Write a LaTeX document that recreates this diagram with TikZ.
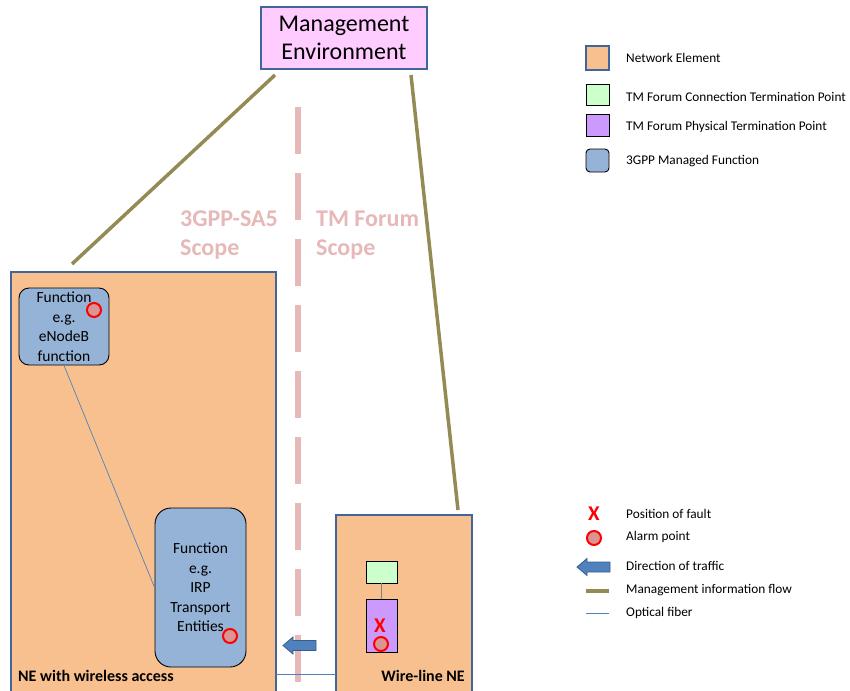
\documentclass[tikz,border=0pt]{standalone}
\usepackage{fontspec}
\setmainfont{Carlito}
\definecolor{neorange}{HTML}{F9C08F}
\definecolor{neborder}{HTML}{41679A}
\definecolor{mfblue}{HTML}{95B3D7}
\definecolor{mgmtpink}{HTML}{FFCCFF}
\definecolor{ctpgreen}{HTML}{CCFFCC}
\definecolor{ptppurple}{HTML}{CC99FF}
\definecolor{olive}{HTML}{948A54}
\definecolor{scopepink}{HTML}{E6B9B8}
\definecolor{alarmfill}{HTML}{D99594}
\definecolor{fiber}{HTML}{4F81BD}
\definecolor{arrowblue}{HTML}{4F81BD}
\definecolor{arrowedge}{HTML}{385D8A}
\tikzset{
  nebox/.style={draw=neborder, line width=1.6pt, fill=neorange},
  mfbox/.style={draw=black, line width=0.9pt, fill=mfblue, rounded corners=10pt},
  alarm/.style={circle, draw=red, line width=2pt, fill=alarmfill, minimum size=14pt, inner sep=0pt},
  fault/.style={text=red, font=\fontsize{21}{21}\selectfont\bfseries, inner sep=0pt},
  mgmtflow/.style={draw=olive, line width=3.5pt},
  fiberline/.style={draw=fiber, line width=0.7pt},
  scopetext/.style={text=scopepink, font=\fontsize{24}{29}\selectfont\bfseries, align=left, anchor=north west, inner sep=0pt},
  legtext/.style={anchor=west, font=\fontsize{13.3}{15}\selectfont, inner sep=0pt},
  trafficarrow/.style={draw=arrowedge, fill=arrowblue, line width=0.8pt, line join=miter},
  functext/.style={font=\fontsize{15.5}{19.5}\selectfont, align=center},
  nelabel/.style={font=\fontsize{16}{18}\selectfont\bfseries, inner sep=0pt},
  pics/traffic/.style={code={
    \draw[trafficarrow] (-16.5,0) -- (-6.5,-8.5) -- (-6.5,-5) -- (16.5,-5) -- (16.5,5) -- (-6.5,5) -- (-6.5,8.5) -- cycle;
  }}
}
\begin{document}
\begin{tikzpicture}[x=1pt,y=-1pt]
\useasboundingbox (0,0) rectangle (850,690);
% scope divider
\draw[scopepink, line width=6pt, dash pattern=on 47pt off 19pt] (298,107) -- (298,700);
\node[scopetext] (sa5) at (180,211) {3GPP-SA5\\Scope};
\node[scopetext] (tmf) at (316,211) {TM Forum\\Scope};
% network elements
\draw[nebox] (11,272) rectangle (276,695);
\draw[nebox] (336,515) rectangle (472,695);
\coordinate (neL) at (72,264);
\coordinate (neR) at (458,510);
% management environment
\node[draw=neborder, line width=1.6pt, fill=mgmtpink, minimum width=166pt, minimum height=62pt,
  font=\fontsize{24}{28}\selectfont, align=center] (mgmt) at (344,38) {Management\\Environment};
\coordinate (mL) at (275,75);
\coordinate (mR) at (411,75);
\draw[mgmtflow] (mL) -- (neL);
\draw[mgmtflow] (mR) -- (neR);
% managed functions
\node[mfbox, minimum width=90pt, minimum height=77pt, functext] (enb) at (64,326.5)
  {Function\\e.g.\\eNodeB\\function};
\node[mfbox, minimum width=91pt, minimum height=159pt, functext, rounded corners=16pt] (irp) at (200.5,587.5)
  {Function\\e.g.\\IRP\\Transport\\Entities};
\node[alarm] (a1) at (94,310) {};
\node[alarm] (a2) at (230,636) {};
\draw[fiberline] (enb.south) -- (irp.west);
% wire-line termination points
\node[draw=black, line width=0.8pt, fill=ctpgreen, minimum width=31pt, minimum height=22pt, inner sep=0pt] (ctp) at (381.5,572) {};
\node[draw=black, line width=0.8pt, fill=ptppurple, minimum width=31pt, minimum height=53pt, inner sep=0pt] (ptp) at (381.5,625.5) {};
\draw[gray, line width=1pt] (ctp.south) -- (ptp.north);
\node[fault] (x1) at (380,626) {X};
\node[alarm] (a3) at (381,644) {};
% fiber between elements
\coordinate (fL) at (276,674);
\coordinate (fR) at (336,674);
\draw[fiberline, line width=1pt] (fL) -- (fR);
% traffic direction
\pic at (299.5,645.5) {traffic};
% NE labels
\node[nelabel, anchor=west] (lblL) at (18,676) {NE with wireless access};
\node[nelabel, anchor=east] (lblR) at (465,676) {Wire-line NE};
% legend
\node[draw=neborder, line width=1.6pt, fill=neorange, minimum width=23pt, minimum height=24pt, inner sep=0pt] (k1) at (597.5,58) {};
\node[legtext] (t1) at (626,58) {Network Element};
\node[draw=black, line width=0.8pt, fill=ctpgreen, minimum width=23pt, minimum height=21pt, inner sep=0pt] (k2) at (597.5,95) {};
\node[legtext] (t2) at (626,97) {TM Forum Connection Termination Point};
\node[draw=black, line width=0.8pt, fill=ptppurple, minimum width=23pt, minimum height=22pt, inner sep=0pt] (k3) at (597.5,125) {};
\node[legtext] (t3) at (626,127) {TM Forum Physical Termination Point};
\node[draw=black, line width=0.9pt, fill=mfblue, rounded corners=4pt, minimum width=23pt, minimum height=23pt, inner sep=0pt] (k4) at (597.5,160.5) {};
\node[legtext] (t4) at (626,161) {3GPP Managed Function};
\node[fault] (k5) at (594,514) {X};
\node[legtext] (t5) at (626,514) {Position of fault};
\node[alarm] (k6) at (594,538) {};
\node[legtext] (t6) at (626,537) {Alarm point};
\pic at (593.5,567) {traffic};
\node[legtext] (t7) at (626,566) {Direction of traffic};
\coordinate (k8a) at (586,591);
\coordinate (k8b) at (609,591);
\draw[mgmtflow] (k8a) -- (k8b);
\node[legtext] (t8) at (626,590) {Management information flow};
\coordinate (k9a) at (586,613);
\coordinate (k9b) at (609,613);
\draw[fiberline] (k9a) -- (k9b);
\node[legtext] (t9) at (626,613) {Optical fiber};
\end{tikzpicture}
\end{document}
